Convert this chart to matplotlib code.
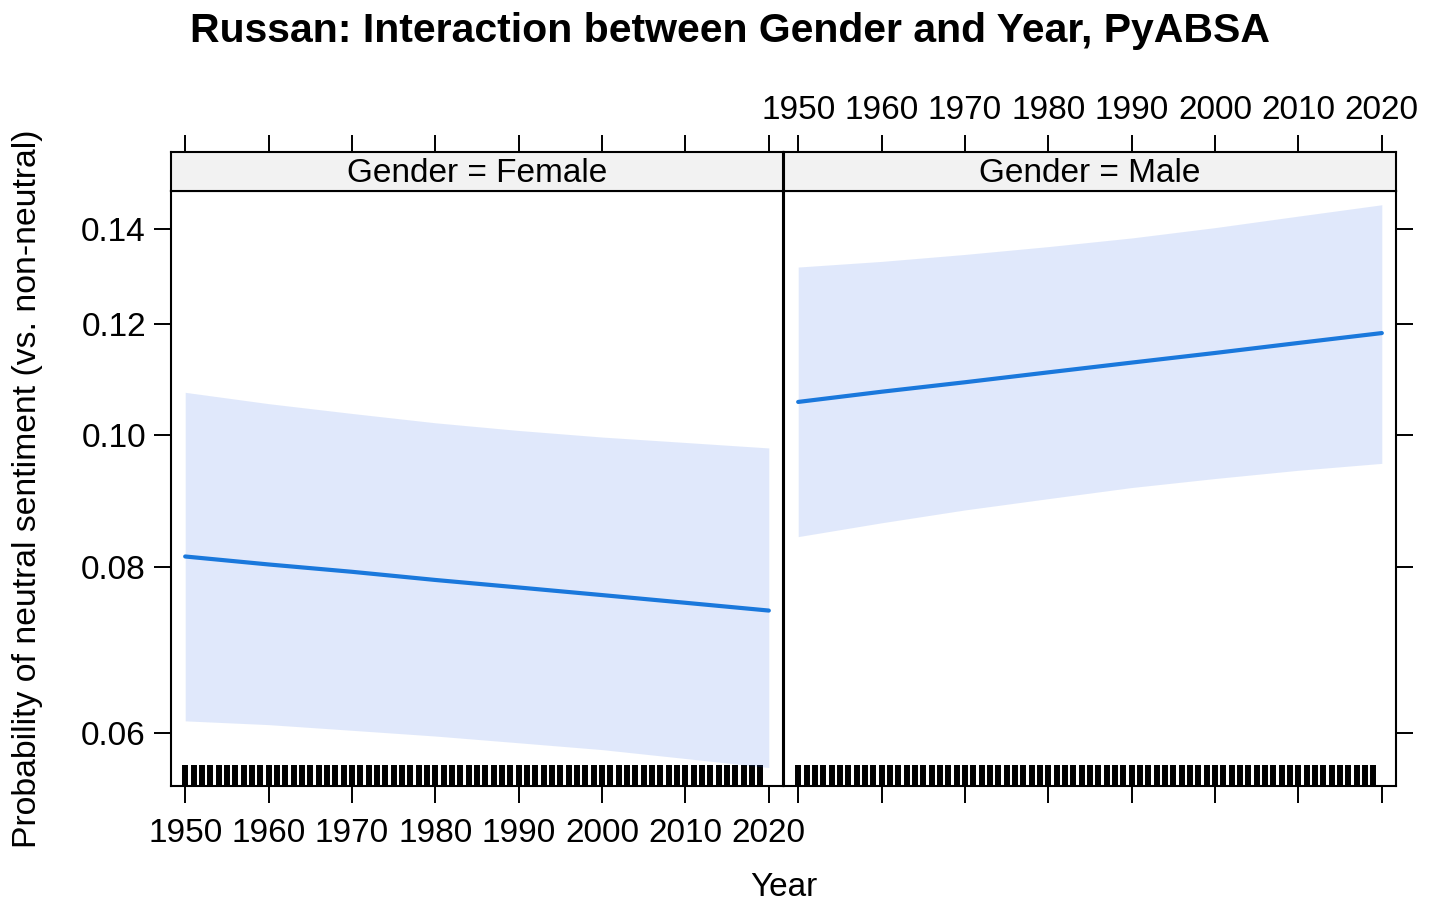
import numpy as np
import matplotlib.pyplot as plt
from matplotlib.ticker import FixedLocator, FixedFormatter, NullLocator

plt.rcParams['font.family'] = ['Liberation Sans', 'DejaVu Sans']

genders = ["Female", "Male"]
years = [1950, 1960, 1970, 1980, 1990, 2000, 2010, 2020]

# fitted probability and 95% band
fit_female = [0.0814, 0.0803, 0.0793, 0.0782, 0.0772, 0.0762, 0.0752, 0.0742]
upper_female = [0.1073, 0.1053, 0.1036, 0.1020, 0.1007, 0.0996, 0.0987, 0.0978]
lower_female = [0.0613, 0.0609, 0.0603, 0.0597, 0.0590, 0.0583, 0.0574, 0.0565]

fit_male = [0.1056, 0.1074, 0.1091, 0.1109, 0.1127, 0.1145, 0.1164, 0.1183]
upper_male = [0.1317, 0.1329, 0.1344, 0.1361, 0.1380, 0.1403, 0.1429, 0.1455]
lower_male = [0.0842, 0.0862, 0.0881, 0.0898, 0.0915, 0.0929, 0.0942, 0.0953]

rug_years = list(range(1950, 2020))

y_ticks = [0.06, 0.08, 0.10, 0.12, 0.14]
y_labels = ["0.06", "0.08", "0.10", "0.12", "0.14"]
x_ticks = [1950, 1960, 1970, 1980, 1990, 2000, 2010, 2020]

fits = {"Female": fit_female, "Male": fit_male}
uppers = {"Female": upper_female, "Male": upper_male}
lowers = {"Female": lower_female, "Male": lower_male}

W, H = 1429, 911
fig = plt.figure(figsize=(W / 100, H / 100), dpi=100)

line_col = "#1a78dc"
band_col = "#336be6"
lefts = [171, 784]
pw = 612

for i, g in enumerate(genders):
    ax = fig.add_axes([lefts[i] / W, 1 - 786 / H, pw / W, 595 / H])
    sax = fig.add_axes([lefts[i] / W, 1 - 191 / H, pw / W, 39 / H], sharex=ax)

    ax.fill_between(years, lowers[g], uppers[g], color=band_col, alpha=0.15, lw=0, zorder=2)
    ax.vlines(rug_years, 0, 0.036, transform=ax.get_xaxis_transform(),
              color="black", lw=4.3, zorder=1)
    ax.plot(years, fits[g], color=line_col, lw=3, solid_capstyle="round", zorder=3)

    ax.set_yscale("logit")
    ax.set_ylim(0.0547, 0.1487)
    ax.set_xlim(1948.3, 2021.7)
    ax.yaxis.set_major_locator(FixedLocator(y_ticks))
    ax.yaxis.set_major_formatter(FixedFormatter(y_labels))
    ax.yaxis.set_minor_locator(NullLocator())
    ax.set_xticks(x_ticks)
    ax.set_xticklabels([str(x) for x in x_ticks])

    for s in ax.spines.values():
        s.set_linewidth(1.5)

    ax.tick_params(axis="x", which="both", top=False, bottom=True, labelbottom=(i == 0),
                   direction="out", length=12, width=1.4, labelsize=24, pad=11)
    ax.tick_params(axis="y", which="both", left=(i == 0), right=(i == 1),
                   labelleft=(i == 0), labelright=False,
                   direction="out", length=12, width=1.4, labelsize=24, pad=6)

    sax.set_facecolor("#f2f2f2")
    for s in sax.spines.values():
        s.set_linewidth(1.5)
    sax.set_yticks([])
    sax.tick_params(axis="x", which="both", bottom=False, labelbottom=False,
                    top=True, labeltop=(i == 1), direction="out",
                    length=12, width=1.4, labelsize=24, pad=7)
    sax.text(0.5, 0.44, "Gender = " + g, transform=sax.transAxes,
             ha="center", va="center", fontsize=24)

fig.text(28 / W, 1 - 489 / H, "Probability of neutral sentiment (vs. non-neutral)",
         rotation=90, ha="center", va="center", fontsize=24.3)
fig.text(784 / W, 1 - 887 / H, "Year", ha="center", va="center", fontsize=24)
fig.text(730 / W, 1 - 31 / H, "Russan: Interaction between Gender and Year, PyABSA",
         ha="center", va="center", fontsize=29.5, fontweight="bold")

fig.savefig("out.png", dpi=100, facecolor="white")
